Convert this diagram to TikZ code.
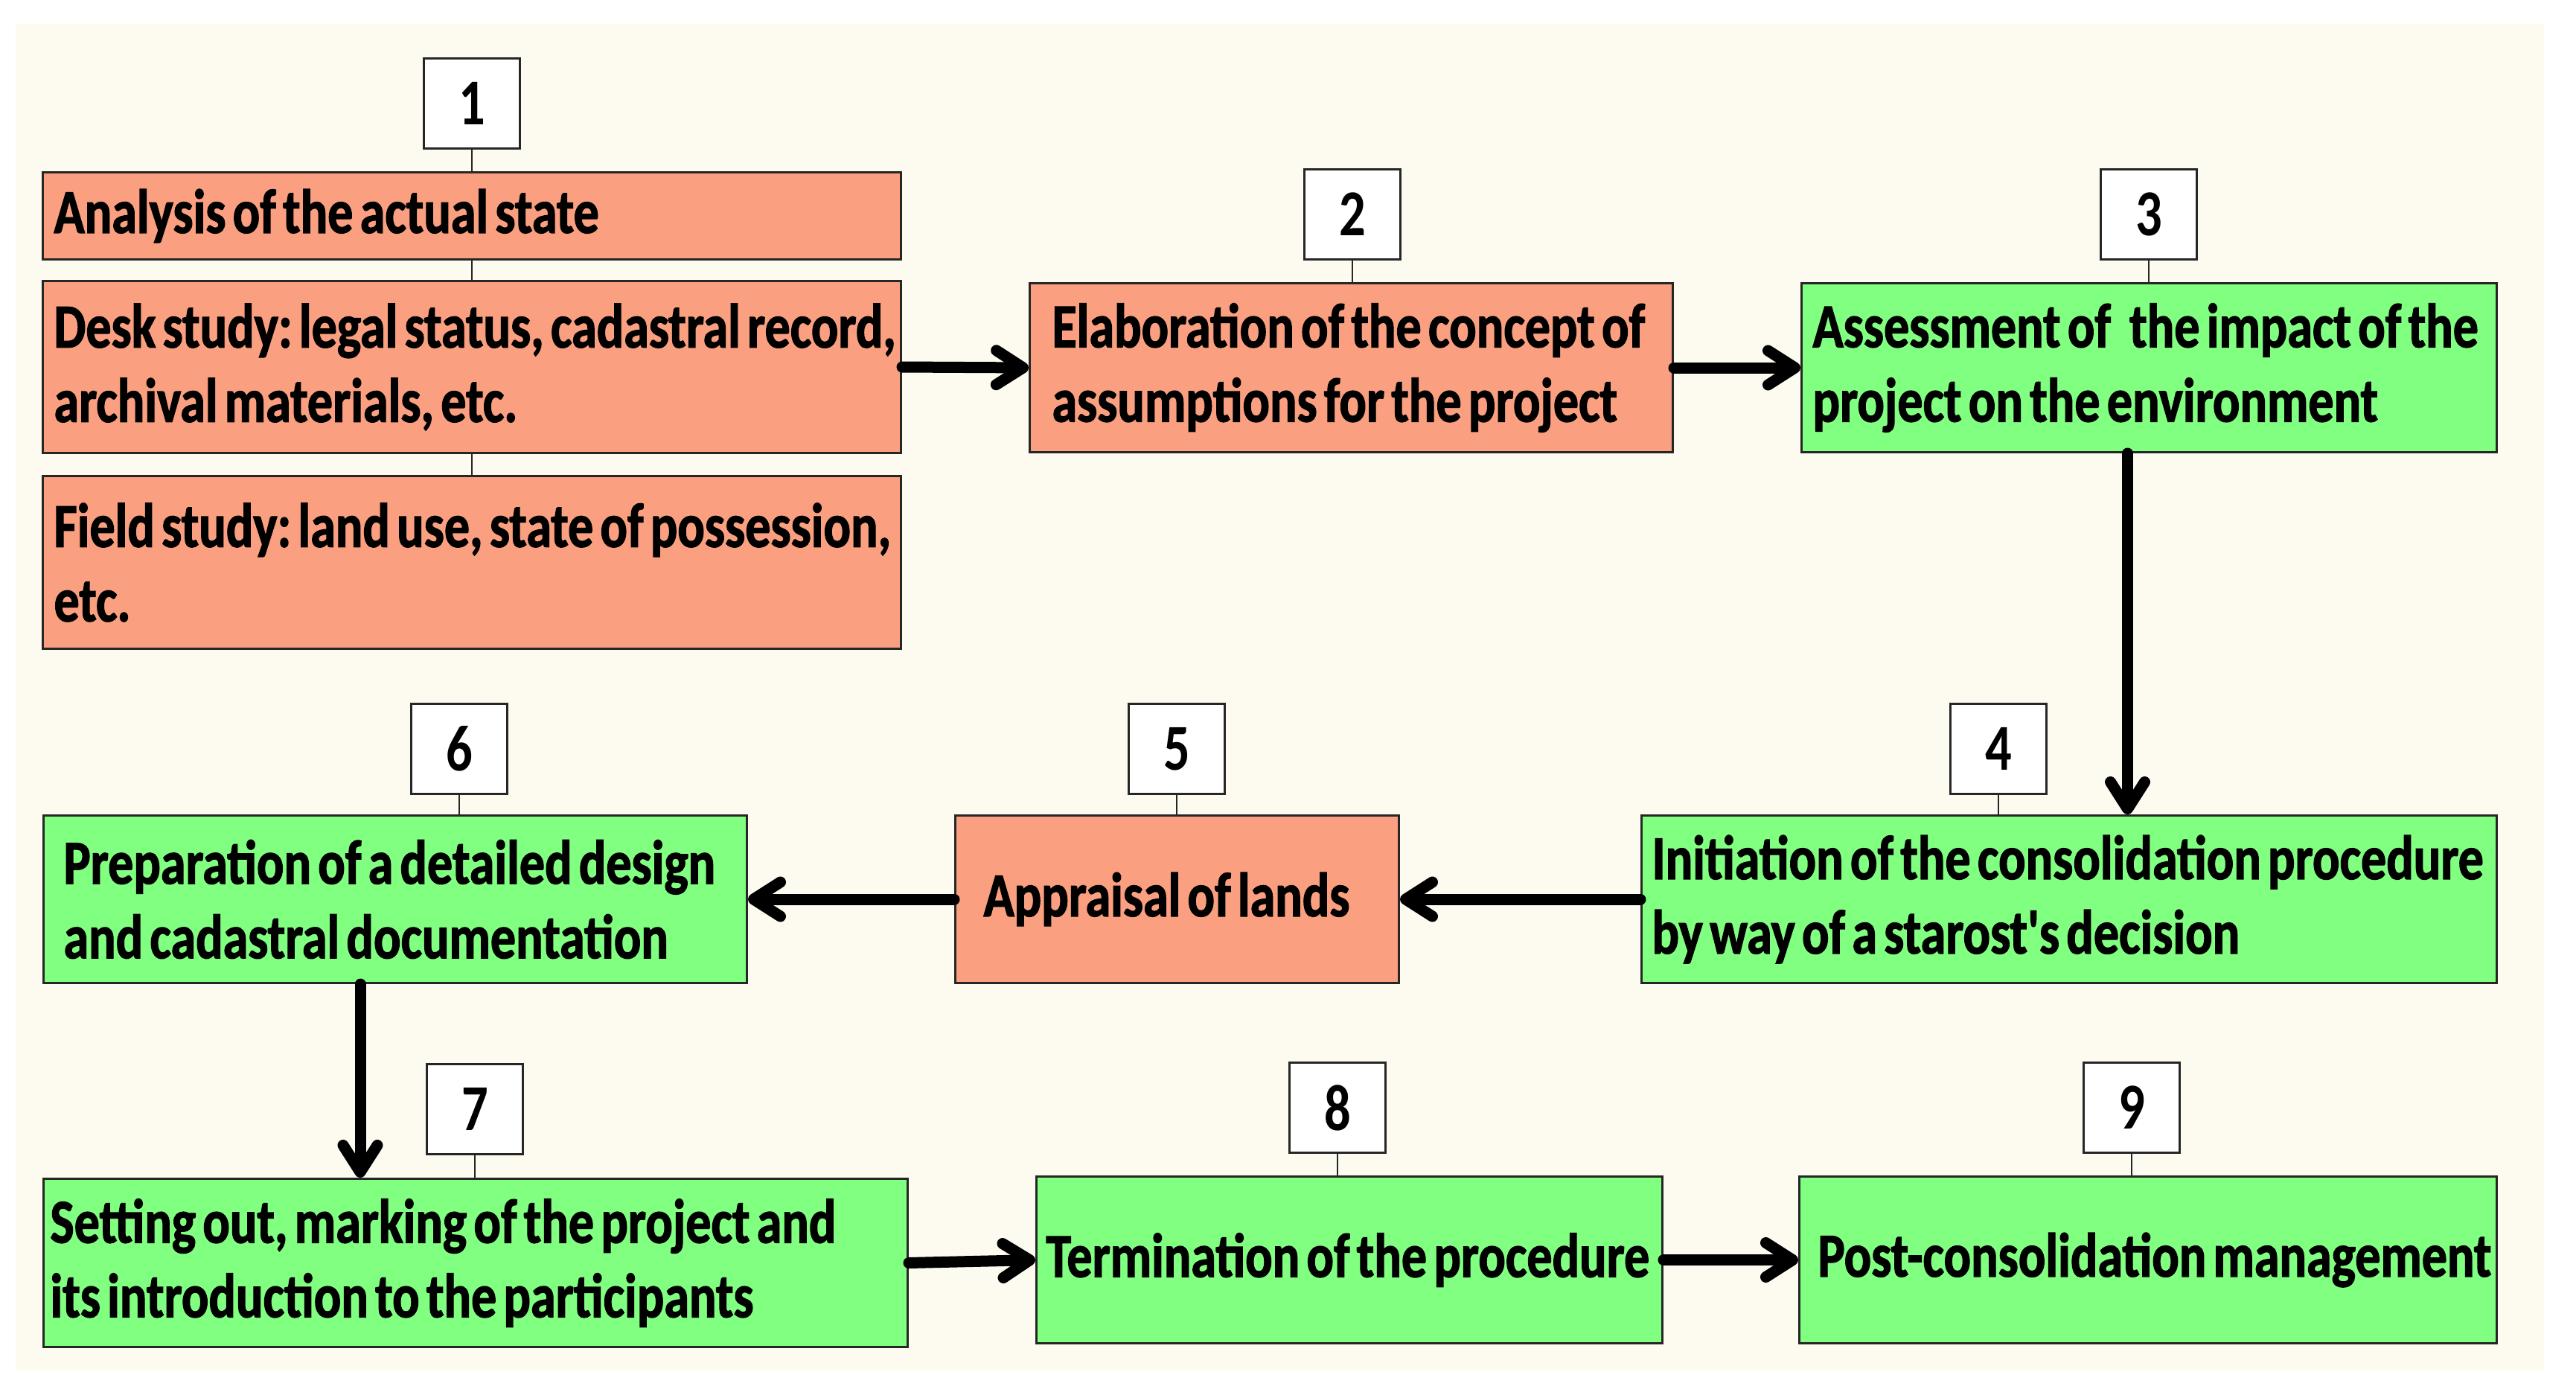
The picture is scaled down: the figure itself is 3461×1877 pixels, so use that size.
\documentclass[tikz,border=0pt]{standalone}
\usepackage{fontspec}
\newfontfamily\cfont{Carlito}[FakeStretch=0.81, BoldFont={Carlito Bold}, BoldFeatures={FakeBold=1.5}]
\newfontfamily\nfont{Carlito Bold}[FakeStretch=0.8]
\usetikzlibrary{arrows.meta}
\definecolor{salmon}{RGB}{250,160,128}
\definecolor{lgreen}{RGB}{128,255,128}
\definecolor{cream}{RGB}{253,250,240}
\newcommand{\tl}[1]{\mbox{\spaceskip=0.11em\relax\xspaceskip=0.11em\relax #1}}
\newcommand{\boxfont}{\cfont\bfseries\fontsize{84}{100}\selectfont}
\begin{document}
\begin{tikzpicture}[x=1pt,y=-1pt,
  box/.style={draw=black!85, line width=3pt, anchor=north west, inner ysep=0pt,
    align=left, font=\boxfont},
  numbox/.style={draw=black!85, line width=3pt, fill=white, anchor=north west,
    minimum width=129pt, minimum height=121pt, inner sep=0pt,
    font=\nfont\fontsize{88}{100}\selectfont},
  tick/.style={line width=2pt, draw=black!85},
  arr/.style={line width=15pt, line cap=round, -{Straight Barb[length=36pt,width=46pt,round]}}
]
\fill[white] (0,0) rectangle (3461,1877);
\fill[cream] (21,32) rectangle (3418,1841);

% step 1
\node[box, fill=salmon, inner xsep=15pt, text width=1123pt, minimum height=117pt] (a) at (56,230) {\tl{Analysis of the actual state}};
\node[box, fill=salmon, inner xsep=15pt, text width=1123pt, minimum height=231pt] (desk) at (56,376) {\tl{Desk study: legal status, cadastral record,}\\\tl{archival materials, etc.}};
\node[box, fill=salmon, inner xsep=15pt, text width=1123pt, minimum height=232pt] (field) at (56,638) {\tl{Field study: land use, state of possession,}\\\tl{etc.}};
% step 2
\node[box, fill=salmon, inner xsep=30pt, text width=804pt, minimum height=227pt] (b2) at (1382,379) {\tl{Elaboration of the concept of}\\\tl{assumptions for the project}};
% step 3
\node[box, fill=lgreen, inner xsep=15pt, text width=904pt, minimum height=227pt] (b3) at (2419,379) {\tl{Assessment of\hspace{0.3em}the impact of the}\\\tl{project on the environment}};
% step 4
\node[box, fill=lgreen, inner xsep=14pt, text width=1121pt, minimum height=225pt] (b4) at (2204,1094) {\tl{Initiation of the consolidation procedure}\\\tl{by way of a starost's decision}};
% step 5
\node[box, fill=salmon, inner xsep=38pt, text width=520pt, minimum height=225pt] (b5) at (1282,1094) {\tl{Appraisal of lands}};
% step 6
\node[box, fill=lgreen, inner xsep=27pt, text width=891pt, minimum height=225pt] (b6) at (57,1094) {\tl{Preparation of a detailed design}\\\tl{and cadastral documentation}};
% step 7
\node[box, fill=lgreen, inner xsep=9pt, text width=1143pt, minimum height=226pt] (b7) at (57,1582) {\tl{Setting out, marking of the project and}\\\tl{its introduction to the participants}};
% step 8
\node[box, fill=lgreen, inner xsep=13pt, text width=815pt, minimum height=224pt] (b8) at (1391,1579) {\tl{Termination of the procedure}};
% step 9
\node[box, fill=lgreen, inner xsep=25pt, text width=887pt, minimum height=224pt] (b9) at (2416,1579) {\tl{Post-consolidation management}};

% number boxes
\node[numbox] (n1) at (568,77) {1};
\node[numbox] (n2) at (1751,226) {2};
\node[numbox] (n3) at (2821,226) {3};
\node[numbox] (n4) at (2619,944) {4};
\node[numbox] (n5) at (1515,944) {5};
\node[numbox] (n6) at (551,944) {6};
\node[numbox] (n7) at (572,1428) {7};
\node[numbox] (n8) at (1731,1426) {8};
\node[numbox] (n9) at (2798,1426) {9};

% ticks
\draw[tick] (n1.south) -- (n1.south |- a.north);
\draw[tick] (a.south -| n1.south) -- (desk.north -| n1.south);
\draw[tick] (desk.south -| n1.south) -- (field.north -| n1.south);
\draw[tick] (n2.south) -- (n2.south |- b2.north);
\draw[tick] (n3.south) -- (n3.south |- b3.north);
\draw[tick] (n4.south) -- (n4.south |- b4.north);
\draw[tick] (n5.south) -- (n5.south |- b5.north);
\draw[tick] (n6.south) -- (n6.south |- b6.north);
\draw[tick] (n7.south) -- (n7.south |- b7.north);
\draw[tick] (n8.south) -- (n8.south |- b8.north);
\draw[tick] (n9.south) -- (n9.south |- b9.north);

% arrows
\draw[arr] (desk.east) -- (b2.west);
\draw[arr] (b2.east) -- (b3.west);
\draw[arr] ([xshift=-29pt]b3.south) -- ([xshift=-29pt]b3.south |- b4.north);
\draw[arr] (b4.west) -- (b5.east);
\draw[arr] (b5.west) -- (b6.east);
\draw[arr] ([xshift=-47pt]b6.south) -- ([xshift=-47pt]b6.south |- b7.north);
\draw[arr] (b7.east) -- (b8.west);
\draw[arr] (b8.east) -- (b9.west);
\end{tikzpicture}
\end{document}
